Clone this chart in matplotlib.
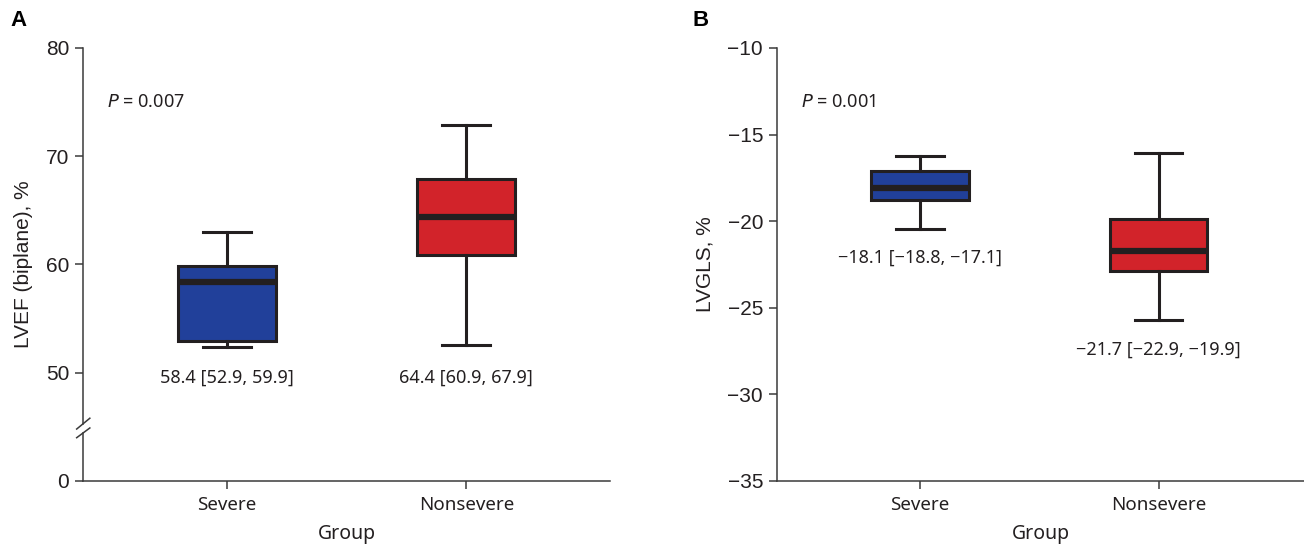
import matplotlib.pyplot as plt
from matplotlib.transforms import blended_transform_factory

groups = ['Severe', 'Nonsevere']
colors = ['#21409a', '#d2232a']

# panel A: LVEF (biplane), %
lvef_med = [58.4, 64.4]
lvef_q1 = [52.9, 60.9]
lvef_q3 = [59.9, 67.9]
lvef_lo = [52.4, 52.6]
lvef_hi = [63.0, 72.9]
lvef_labels = ['58.4 [52.9, 59.9]', '64.4 [60.9, 67.9]']

# panel B: LVGLS, %
gls_med = [-18.1, -21.7]
gls_q1 = [-18.8, -22.9]
gls_q3 = [-17.1, -19.9]
gls_lo = [-20.45, -25.7]
gls_hi = [-16.25, -16.05]
gls_labels = ['\u221218.1 [\u221218.8, \u221217.1]', '\u221221.7 [\u221222.9, \u221219.9]']

ink = '#231f20'
axis_col = '#3a3a3a'
txt_col = '#231f20'
tick_font = 'Liberation Sans'
text_font = 'Noto Sans'

fig = plt.figure(figsize=(13.04, 5.51), dpi=100)
axA = fig.add_axes([83/1304, 1-481/551, (610-83)/1304, (481-48)/551])
axB = fig.add_axes([777/1304, 1-481/551, (1304-777)/1304, (481-48)/551])


def draw_boxes(ax, med, q1, q3, lo, hi, width, capw):
    stats = []
    for i in range(len(groups)):
        stats.append(dict(med=med[i], q1=q1[i], q3=q3[i], whislo=lo[i], whishi=hi[i], label=groups[i]))
    bp = ax.bxp(stats, positions=[1, 2], widths=width, showfliers=False, patch_artist=True,
                capwidths=capw,
                boxprops=dict(edgecolor=ink, linewidth=2.2),
                medianprops=dict(color=ink, linewidth=4.5, solid_capstyle='butt'),
                whiskerprops=dict(color=ink, linewidth=2.2),
                capprops=dict(color=ink, linewidth=2.2))
    for patch, c in zip(bp['boxes'], colors):
        patch.set_facecolor(c)
    for spine in ['top', 'right']:
        ax.spines[spine].set_visible(False)
    ax.spines['bottom'].set_color(axis_col)
    ax.spines['bottom'].set_linewidth(1.1)
    ax.spines['left'].set_color(axis_col)
    ax.spines['left'].set_linewidth(1.1)
    ax.tick_params(axis='both', colors=axis_col, length=6, width=1.1)
    ax.tick_params(axis='y', labelsize=15, labelcolor=txt_col, pad=4)
    ax.tick_params(axis='x', labelsize=13.5, labelcolor=txt_col, pad=5)
    for t in ax.get_xticklabels():
        t.set_fontfamily(text_font)
    ax.set_xlabel('Group', fontsize=14, family=text_font, color=txt_col, labelpad=7)


# ---- panel A (broken y axis: 0 drawn at the 40 position)
draw_boxes(axA, lvef_med, lvef_q1, lvef_q3, lvef_lo, lvef_hi, 0.41, 0.2)
axA.set_xlim(0.4, 2.6)
axA.set_ylim(40, 80)
axA.set_yticks([40, 50, 60, 70, 80])
axA.set_yticklabels(['0', '50', '60', '70', '80'])
for t in axA.get_yticklabels():
    t.set_fontfamily(tick_font)
axA.set_ylabel('LVEF (biplane), %', fontsize=15, family=tick_font, color=txt_col, labelpad=9)
axA.spines['left'].set_visible(False)
tr = blended_transform_factory(axA.transAxes, axA.transData)
axA.plot([0, 0], [40, 44.4], color=axis_col, lw=1.1, transform=tr, clip_on=False)
axA.plot([0, 0], [45.3, 80], color=axis_col, lw=1.1, transform=tr, clip_on=False)
axA.plot([-0.012, 0.013], [44.0, 44.9], color=axis_col, lw=1.1, transform=tr, clip_on=False)
axA.plot([-0.012, 0.013], [44.8, 45.8], color=axis_col, lw=1.1, transform=tr, clip_on=False)
for i in range(len(groups)):
    axA.text(i + 1, 49.5, lvef_labels[i], ha='center', va='center', fontsize=13,
             family=text_font, color=txt_col)
axA.text(0.045, 0.876, '$P$ = 0.007', transform=axA.transAxes, fontsize=13,
         family=text_font, color=txt_col, va='center')
fig.text(10/1304, 1-20/551, 'A', fontsize=16, fontweight='bold', family=tick_font, va='center')

# ---- panel B
draw_boxes(axB, gls_med, gls_q1, gls_q3, gls_lo, gls_hi, 0.41, 0.2)
axB.set_xlim(0.4, 2.61)
axB.set_ylim(-35, -10)
axB.set_yticks([-35, -30, -25, -20, -15, -10])
for t in axB.get_yticklabels():
    t.set_fontfamily(tick_font)
axB.set_ylabel('LVGLS, %', fontsize=15, family=tick_font, color=txt_col, labelpad=9)
axB.text(1, -22.1, gls_labels[0], ha='center', va='center', fontsize=13,
         family=text_font, color=txt_col)
axB.text(2, -27.4, gls_labels[1], ha='center', va='center', fontsize=13,
         family=text_font, color=txt_col)
axB.text(0.045, 0.876, '$P$ = 0.001', transform=axB.transAxes, fontsize=13,
         family=text_font, color=txt_col, va='center')
fig.text(692/1304, 1-20/551, 'B', fontsize=16, fontweight='bold', family=tick_font, va='center')

fig.savefig('out.png', dpi=100)
